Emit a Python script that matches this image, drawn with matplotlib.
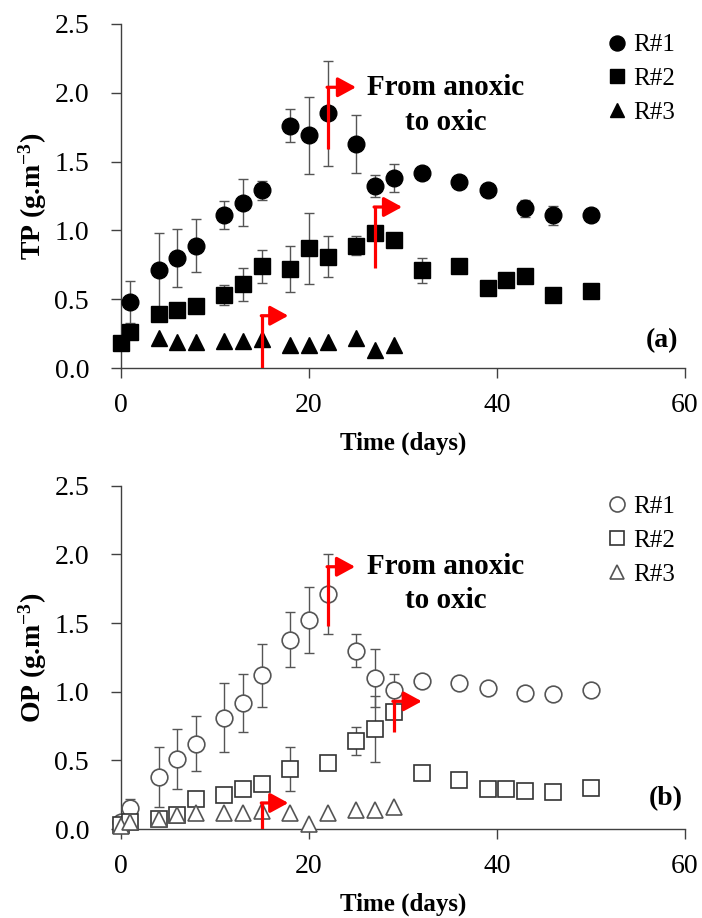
import numpy as np
import matplotlib
matplotlib.use('Agg')
import matplotlib.pyplot as plt

plt.rcParams['font.family'] = ['Liberation Serif', 'DejaVu Serif']
plt.rcParams['mathtext.default'] = 'regular'

# TP data (panel a)
tp1_days = [1, 4, 6, 8, 11, 13, 15, 18, 20, 22, 25, 27, 29, 32, 36, 39, 43, 46, 50]
tp1_val = [0.48, 0.71, 0.80, 0.89, 1.11, 1.20, 1.29, 1.76, 1.69, 1.85, 1.63, 1.32, 1.38,
           1.42, 1.35, 1.29, 1.16, 1.11, 1.11]
tp1_err = [0.15, 0.27, 0.21, 0.19, 0.10, 0.17, 0.07, 0.12, 0.28, 0.38, 0.21, 0.08, 0.10,
           0, 0, 0, 0.06, 0.07, 0]

tp2_days = [0, 1, 4, 6, 8, 11, 13, 15, 18, 20, 22, 25, 27, 29, 32, 36, 39, 41, 43, 46, 50]
tp2_val = [0.18, 0.26, 0.39, 0.42, 0.45, 0.53, 0.61, 0.74, 0.72, 0.87, 0.81, 0.89, 0.98,
           0.93, 0.71, 0.74, 0.58, 0.64, 0.67, 0.53, 0.56]
tp2_err = [0, 0, 0, 0, 0, 0.07, 0.12, 0.12, 0.17, 0.26, 0.15, 0.07, 0.03, 0, 0.09,
           0, 0, 0, 0.03, 0, 0]

tp3_days = [4, 6, 8, 11, 13, 15, 18, 20, 22, 25, 27, 29]
tp3_val = [0.22, 0.19, 0.19, 0.20, 0.20, 0.21, 0.17, 0.17, 0.19, 0.22, 0.13, 0.17]

# OP data (panel b)
op1_days = [0, 1, 4, 6, 8, 11, 13, 15, 18, 20, 22, 25, 27, 29, 32, 36, 39, 43, 46, 50]
op1_val = [0.05, 0.15, 0.38, 0.51, 0.62, 0.81, 0.92, 1.12, 1.38, 1.52, 1.71, 1.30, 1.10,
           1.01, 1.08, 1.06, 1.03, 0.99, 0.98, 1.01]
op1_err = [0, 0.07, 0.22, 0.22, 0.20, 0.25, 0.21, 0.23, 0.20, 0.24, 0.29, 0.12, 0.21,
           0.12, 0, 0, 0, 0, 0, 0]

op2_days = [0, 1, 4, 6, 8, 11, 13, 15, 18, 22, 25, 27, 29, 32, 36, 39, 41, 43, 46, 50]
op2_val = [0.03, 0.05, 0.07, 0.10, 0.22, 0.25, 0.29, 0.33, 0.44, 0.48, 0.64, 0.73, 0.85,
           0.41, 0.36, 0.29, 0.29, 0.28, 0.27, 0.30]
op2_err = [0, 0, 0, 0, 0, 0, 0, 0, 0.16, 0, 0.10, 0.24, 0, 0, 0, 0, 0, 0, 0, 0]

op3_days = [0, 1, 4, 6, 8, 11, 13, 15, 18, 20, 22, 25, 27, 29]
op3_val = [0.02, 0.05, 0.07, 0.10, 0.12, 0.12, 0.12, 0.13, 0.12, 0.04, 0.12, 0.14, 0.14, 0.16]

labels = ['R#1', 'R#2', 'R#3']

# switch markers (day, line start, line end, arrow tip)
tp_switch = [(15, 0.0, 0.38, 17.8), (22, 1.59, 2.04, 25.0), (27, 0.73, 1.17, 29.9)]
op_switch = [(15, 0.0, 0.19, 17.8), (22, 1.48, 1.91, 24.9), (29, 0.71, 0.93, 32.0)]

ECOL = '#555555'
AXCOL = '#404040'


def draw_switch(ax, switches):
    for x, y0, y1, xt in switches:
        ax.plot([x, x], [y0, y1], color='red', lw=2.3, solid_capstyle='butt', zorder=4)
        ax.annotate('', xy=(xt, y1), xytext=(x - 0.08, y1),
                    arrowprops=dict(arrowstyle='-|>,head_length=0.55,head_width=0.3',
                                    color='red', lw=2.3, shrinkA=0, shrinkB=0,
                                    mutation_scale=20),
                    zorder=4)


def setup_axes(ax, ylabel):
    ax.set_xlim(0, 60)
    ax.set_ylim(0, 2.5)
    ax.set_xticks([0, 20, 40, 60])
    ax.set_yticks(np.arange(0, 2.51, 0.5))
    ax.yaxis.set_major_formatter(plt.FormatStrFormatter('%.1f'))
    for s in ['top', 'right']:
        ax.spines[s].set_visible(False)
    for s in ['left', 'bottom']:
        ax.spines[s].set_color(AXCOL)
        ax.spines[s].set_linewidth(1.0)
    ax.tick_params(axis='both', direction='out', length=7, width=1.0, color=AXCOL,
                   labelsize=20)
    ax.tick_params(axis='y', pad=16)
    ax.tick_params(axis='x', pad=11)
    ax.set_xlabel('Time (days)', fontsize=18, fontweight='bold', labelpad=10)
    ax.set_ylabel(ylabel, fontsize=20, fontweight='bold', labelpad=4)


fig = plt.figure(figsize=(7.02, 9.18), dpi=100)
ax1 = fig.add_axes([0.1724, 0.5991, 0.8034, 0.3748])
ax2 = fig.add_axes([0.1724, 0.0969, 0.8034, 0.3740])

# Panel (a): filled markers
ax1.errorbar(tp1_days, tp1_val, yerr=tp1_err, fmt='none', ecolor=ECOL, elinewidth=1,
             capsize=3.5, capthick=1, zorder=2, clip_on=False)
ax1.errorbar(tp2_days, tp2_val, yerr=tp2_err, fmt='none', ecolor=ECOL, elinewidth=1,
             capsize=3.5, capthick=1, zorder=2, clip_on=False)
ax1.plot(tp1_days, tp1_val, 'o', color='black', ms=12, ls='none', label=labels[0],
         zorder=3, clip_on=False)
ax1.plot(tp2_days, tp2_val, 's', color='black', ms=11, ls='none', label=labels[1],
         zorder=3, clip_on=False)
ax1.plot(tp3_days, tp3_val, '^', color='black', ms=11, ls='none', label=labels[2],
         zorder=3, clip_on=False)
draw_switch(ax1, tp_switch)
setup_axes(ax1, 'TP (g.m$^{-3}$)')
ax1.text(34.5, 1.91, 'From anoxic\nto oxic', ha='center', va='center', fontsize=21,
         fontweight='bold', linespacing=1.35)
ax1.text(57.6, 0.20, '(a)', ha='center', va='center', fontsize=20, fontweight='bold')
ax1.legend(loc='upper right', bbox_to_anchor=(1.0, 1.0), frameon=False, fontsize=18,
           handlelength=1.0, handletextpad=0.15, labelspacing=0.45, borderaxespad=0.2,
           borderpad=0.2, markerscale=0.9)

# Panel (b): open markers
ax2.errorbar(op1_days, op1_val, yerr=op1_err, fmt='none', ecolor=ECOL, elinewidth=1,
             capsize=3.5, capthick=1, zorder=2, clip_on=False)
ax2.errorbar(op2_days, op2_val, yerr=op2_err, fmt='none', ecolor=ECOL, elinewidth=1,
             capsize=3.5, capthick=1, zorder=2, clip_on=False)
ax2.plot(op1_days, op1_val, 'o', mfc='white', mec='#555555', mew=1.2, ms=12, ls='none',
         label=labels[0], zorder=3, clip_on=False)
ax2.plot(op2_days, op2_val, 's', mfc='white', mec='#333333', mew=1.2, ms=11, ls='none',
         label=labels[1], zorder=3, clip_on=False)
ax2.plot(op3_days, op3_val, '^', mfc='white', mec='#555555', mew=1.2, ms=11, ls='none',
         label=labels[2], zorder=3, clip_on=False)
draw_switch(ax2, op_switch)
setup_axes(ax2, 'OP (g.m$^{-3}$)')
ax2.text(34.5, 1.79, 'From anoxic\nto oxic', ha='center', va='center', fontsize=21,
         fontweight='bold', linespacing=1.35)
ax2.text(58.0, 0.22, '(b)', ha='center', va='center', fontsize=20, fontweight='bold')
ax2.legend(loc='upper right', bbox_to_anchor=(1.0, 1.0), frameon=False, fontsize=18,
           handlelength=1.0, handletextpad=0.15, labelspacing=0.45, borderaxespad=0.2,
           borderpad=0.2, markerscale=0.9)

fig.savefig('out.png', dpi=100)
